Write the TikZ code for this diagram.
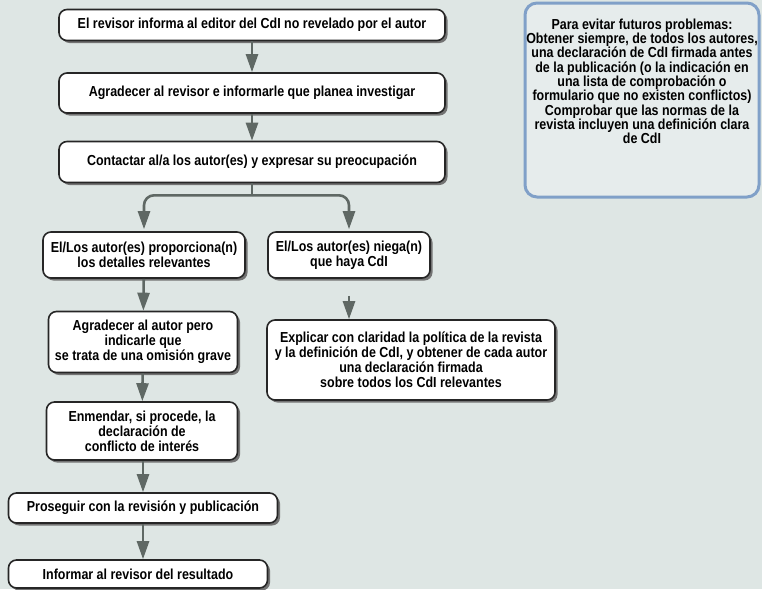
\documentclass[tikz,border=0pt]{standalone}
\usepackage{fontspec}
\newfontfamily\condfont{Liberation Sans}[FakeStretch=0.86]
\usepackage{tikz}
\usetikzlibrary{arrows.meta, shadows, positioning}

\definecolor{fondo}{RGB}{222,230,228}
\definecolor{flechagris}{RGB}{95,104,100}
\definecolor{bordeazul}{RGB}{128,160,200}
\definecolor{notafondo}{RGB}{230,236,236}

\tikzset{
  caja/.style={draw=black!85, line width=1.6pt, fill=white, rounded corners=8pt,
    align=center, inner sep=2pt, font=\condfont\bfseries\fontsize{14.5}{15}\selectfont,
    drop shadow={shadow xshift=2.5pt, shadow yshift=-2.5pt, fill=black!55, opacity=1}},
  flecha/.style={draw=flechagris, line width=2.6pt,
    -{Triangle[length=18pt,width=12pt]}},
  nota/.style={draw=bordeazul, line width=3pt, fill=notafondo, rounded corners=12pt},
  notatexto/.style={align=center, inner sep=0pt, font=\condfont\bfseries\fontsize{14.5}{14.3}\selectfont}
}

\begin{document}
\begin{tikzpicture}[x=1pt, y=-1pt]
    % background
    \fill[fondo] (0,0) rectangle (762,589);
    \useasboundingbox (0,0) rectangle (762,589);

    % main column
    \node[caja, minimum width=386pt, minimum height=31pt] (revisor) at (252,25)
        {El revisor informa al editor del CdI no revelado por el autor};
    \node[caja, minimum width=386pt, minimum height=40pt] (agradecer) at (252,93)
        {Agradecer al revisor e informarle que planea investigar};
    \node[caja, minimum width=386pt, minimum height=41pt] (contactar) at (252,162)
        {Contactar al/a los autor(es) y expresar su preocupación};

    % two branches
    \node[caja, minimum width=202pt, minimum height=46pt] (proporciona) at (144,255)
        {El/Los autor(es) proporciona(n)\\los detalles relevantes};
    \node[caja, minimum width=162pt, minimum height=46pt] (niega) at (349,255)
        {El/Los autor(es) niega(n)\\que haya CdI};

    \node[caja, minimum width=189pt, minimum height=61pt] (omision) at (143,342)
        {Agradecer al autor pero\\indicarle que\\se trata de una omisión grave};
    \node[caja, minimum width=288pt, minimum height=80pt] (explicar) at (411,360)
        {Explicar con claridad la política de la revista\\y la definición de CdI, y obtener de cada autor\\una declaración firmada\\sobre todos los CdI relevantes};

    \node[caja, minimum width=191pt, minimum height=58pt] (enmendar) at (142,431)
        {Enmendar, si procede, la\\declaración de\\conflicto de interés};
    \node[caja, minimum width=269pt, minimum height=30pt] (proseguir) at (143,508)
        {Proseguir con la revisión y publicación};
    \node[caja, minimum width=259pt, minimum height=28pt] (informar) at (138,574)
        {Informar al revisor del resultado};

    % side note
    \node[nota, minimum width=234pt, minimum height=194pt] (nota) at (642,100) {};
    \node[notatexto, anchor=north] (notatexto) at ([yshift=-17pt]nota.north)
        {Para evitar futuros problemas:\\Obtener siempre, de todos los autores,\\una declaración de CdI firmada antes\\de la publicación (o la indicación en\\una lista de comprobación o\\formulario que no existen conflictos)\\Comprobar que las normas de la\\revista incluyen una definición clara\\de CdI};

    % connectors
    \draw[flecha] (revisor) -- (agradecer);
    \draw[flecha] (agradecer) -- (contactar);
    \draw[draw=flechagris, line width=2.6pt] (contactar.south) -- ++(0,12) coordinate (reparto);
    \draw[flecha, rounded corners=10pt, shorten >=2pt] (reparto) -| (proporciona.north);
    \draw[flecha, rounded corners=10pt, shorten >=2pt] (reparto) -| (niega.north);
    \draw[flecha] (proporciona) -- (omision);
    \draw[flecha, shorten <=17pt] (niega) -- (niega|-explicar.north);
    \draw[flecha] (omision) -- (enmendar);
    \draw[flecha] (enmendar.south-|proseguir.north) -- (proseguir);
    \draw[flecha] (proseguir) -- (proseguir|-informar.north);
\end{tikzpicture}
\end{document}
